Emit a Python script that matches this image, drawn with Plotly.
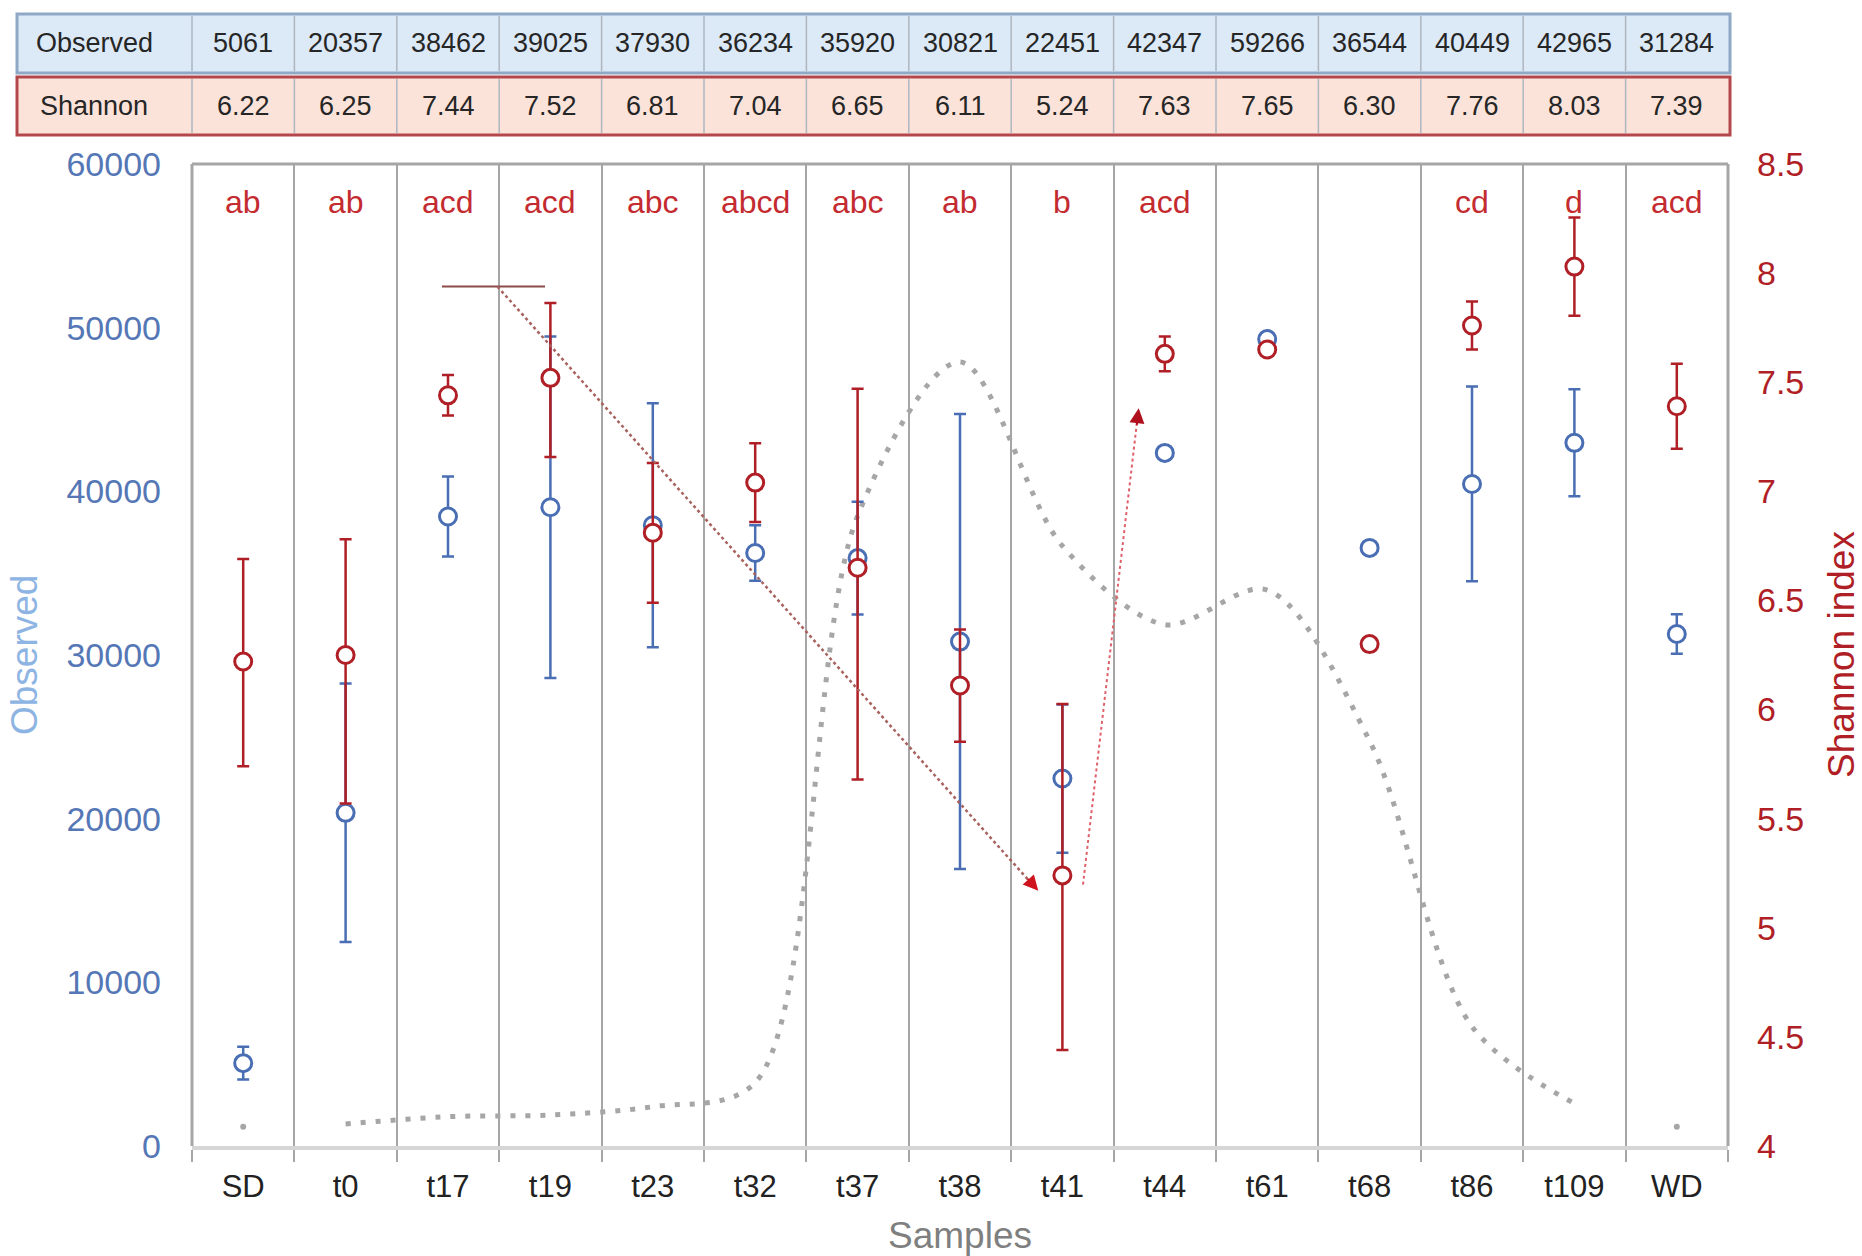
import plotly.graph_objects as go

# ---------------- data ----------------
samples = ["SD", "t0", "t17", "t19", "t23", "t32", "t37", "t38", "t41", "t44",
           "t61", "t68", "t86", "t109", "WD"]
observed_table = [5061, 20357, 38462, 39025, 37930, 36234, 35920, 30821, 22451,
                  42347, 59266, 36544, 40449, 42965, 31284]
shannon_table = [6.22, 6.25, 7.44, 7.52, 6.81, 7.04, 6.65, 6.11, 5.24, 7.63,
                 7.65, 6.30, 7.76, 8.03, 7.39]
# plotted means (read from the points)
observed_mean = [5061, 20357, 38462, 39025, 37930, 36234, 35920, 30821, 22451,
                 42347, 49300, 36544, 40449, 42965, 31284]
observed_err = [1000, 7900, 2450, 10430, 7450, 1700, 3450, 13900, 4530, 0, 0, 0,
                5950, 3270, 1200]
shannon_mean = [6.22, 6.25, 7.44, 7.52, 6.81, 7.04, 6.65, 6.11, 5.24, 7.63,
                7.65, 6.30, 7.76, 8.03, 7.39]
shannon_err_plus = [0.47, 0.53, 0.093, 0.343, 0.32, 0.18, 0.82, 0.257, 0.785, 0.08,
                    0, 0, 0.11, 0.225, 0.195]
shannon_err_minus = [0.48, 0.68, 0.093, 0.363, 0.32, 0.18, 0.97, 0.257, 0.80, 0.08,
                     0, 0, 0.11, 0.225, 0.195]
letters = ["ab", "ab", "acd", "acd", "abc", "abcd", "abc", "ab", "b", "acd",
           "", "", "cd", "d", "acd"]
# dotted grey curve (in Observed axis units); SD and WD are isolated points
curve_vals = [1180, 1344, 1790, 1894, 2400, 3870, 38500, 47900, 36660, 31860,
              33970, 24750, 7300, 2600, 1180]
left_ticks = [0, 10000, 20000, 30000, 40000, 50000, 60000]
left_ticktext = ["0", "10000", "20000", "30000", "40000", "50000", "60000"]
right_ticks = [4, 4.5, 5, 5.5, 6, 6.5, 7, 7.5, 8, 8.5]

# ---------------- layout geometry ----------------
W, H = 1862, 1256
PL, PR, PT, PB = 192, 1728, 164, 1146
FONT = "Liberation Sans, Arial, sans-serif"

def px_x(px):
    return (px - PL) / (PR - PL)

def px_y(py):
    return (PB - py) / (PB - PT)

def to_x(px):
    return (px - PL) / ((PR - PL) / len(samples)) - 0.5

def to_obs(py):
    return (PB - py) / (PB - PT) * 60000

BLUE = "#4A6EB3"
RED = "#B01E26"
LETTER_RED = "#C42B30"
GREY = "#A6A6A6"

idx = list(range(len(samples)))
fig = go.Figure()

# grey dotted curve
line_x = idx[1:-1]
line_y = curve_vals[1:-1]
fig.add_trace(go.Scatter(
    x=line_x, y=line_y, mode="lines", yaxis="y",
    line=dict(color=GREY, width=5, dash="5px,10px", shape="spline", smoothing=0.9),
    hoverinfo="skip", showlegend=False))
fig.add_trace(go.Scatter(
    x=[idx[0], idx[-1]], y=[curve_vals[0], curve_vals[-1]], mode="markers", yaxis="y",
    marker=dict(color=GREY, size=6), hoverinfo="skip", showlegend=False))

# blue observed: error bars (only where present) then markers
bx = [i for i in idx if observed_err[i] > 0]
fig.add_trace(go.Scatter(
    x=bx, y=[observed_mean[i] for i in bx], mode="markers", yaxis="y",
    marker=dict(size=1, color="rgba(0,0,0,0)"),
    error_y=dict(type="data", array=[observed_err[i] for i in bx],
                 color=BLUE, thickness=2.5, width=6),
    hoverinfo="skip", showlegend=False))
fig.add_trace(go.Scatter(
    x=idx, y=observed_mean, mode="markers", yaxis="y",
    marker=dict(symbol="circle", size=17, color="white",
                line=dict(color=BLUE, width=3)),
    showlegend=False))

# red shannon
rx = [i for i in idx if shannon_err_plus[i] > 0]
fig.add_trace(go.Scatter(
    x=rx, y=[shannon_mean[i] for i in rx], mode="markers", yaxis="y2",
    marker=dict(size=1, color="rgba(0,0,0,0)"),
    error_y=dict(type="data", symmetric=False,
                 array=[shannon_err_plus[i] for i in rx],
                 arrayminus=[shannon_err_minus[i] for i in rx],
                 color=RED, thickness=2.5, width=6),
    hoverinfo="skip", showlegend=False))
fig.add_trace(go.Scatter(
    x=idx, y=shannon_mean, mode="markers", yaxis="y2",
    marker=dict(symbol="circle", size=17, color="white",
                line=dict(color=RED, width=3)),
    showlegend=False))

shapes = []
annotations = []

# plot frame
shapes.append(dict(type="line", xref="paper", yref="paper", x0=0, x1=1, y0=1, y1=1,
                   line=dict(color=GREY, width=3)))
shapes.append(dict(type="line", xref="paper", yref="paper", x0=0, x1=0, y0=0, y1=1,
                   line=dict(color=GREY, width=3)))
shapes.append(dict(type="line", xref="paper", yref="paper", x0=1, x1=1, y0=0, y1=1,
                   line=dict(color=GREY, width=3)))

# ---------------- table ----------------
T_L, T_R = 17, 1730
rows = [
    dict(top=14, bot=73, fill="#DCE9F6", border="#8EA8C6", label="Observed",
         values=[str(v) for v in observed_table]),
    dict(top=77, bot=135, fill="#FBE3DA", border="#B4474C", label="Shannon",
         values=["%.2f" % v for v in shannon_table]),
]
ncol = len(samples)
for r in rows:
    shapes.append(dict(type="rect", xref="paper", yref="paper", layer="below",
                       x0=px_x(T_L), x1=px_x(T_R), y0=px_y(r["bot"]), y1=px_y(r["top"]),
                       fillcolor=r["fill"], line=dict(color=r["border"], width=3)))
    for k in range(ncol):
        shapes.append(dict(type="line", xref="paper", yref="paper",
                           x0=k / ncol, x1=k / ncol,
                           y0=px_y(r["bot"] - 2), y1=px_y(r["top"] + 2),
                           line=dict(color="#AEB6BF", width=1.5)))
    ymid = px_y((r["top"] + r["bot"]) / 2)
    annotations.append(dict(xref="paper", yref="paper", x=px_x(94), y=ymid,
                            text=r["label"], showarrow=False, xanchor="center",
                            yanchor="middle",
                            font=dict(family=FONT, size=27, color="#262626")))
    for i, v in enumerate(r["values"]):
        annotations.append(dict(xref="x", yref="paper", x=i, y=ymid, text=v,
                                showarrow=False, xanchor="center", yanchor="middle",
                                font=dict(family=FONT, size=27, color="#262626")))

# significance letters
for i, t in enumerate(letters):
    if t:
        annotations.append(dict(xref="x", yref="paper", x=i, y=px_y(202), text=t,
                                showarrow=False, xanchor="center", yanchor="middle",
                                font=dict(family=FONT, size=32, color=LETTER_RED)))

# ---------------- arrows ----------------
# short horizontal bar over t17/t19
shapes.append(dict(type="line", xref="x", yref="y",
                   x0=to_x(442), x1=to_x(545), y0=to_obs(286.6), y1=to_obs(286.6),
                   line=dict(color="#8B4A4A", width=2)))
# long dotted arrow to t41
shapes.append(dict(type="line", xref="x", yref="y",
                   x0=to_x(497.5), y0=to_obs(286.6), x1=to_x(1032), y1=to_obs(884),
                   line=dict(color="#A8625E", width=2.5, dash="dot")))
annotations.append(dict(xref="x", yref="y", x=to_x(1038.3), y=to_obs(890.7),
                        ax=-12, ay=-13.4, text="", showarrow=True, arrowhead=2,
                        arrowsize=1.5, arrowwidth=2, arrowcolor="#D0141E"))
# short dotted arrow up to t44
shapes.append(dict(type="line", xref="x", yref="y",
                   x0=to_x(1083), y0=to_obs(884.7), x1=to_x(1137), y1=to_obs(422),
                   line=dict(color="#E0606A", width=2, dash="dot")))
annotations.append(dict(xref="x", yref="y", x=to_x(1138.7), y=to_obs(408.3),
                        ax=-2.1, ay=18, text="", showarrow=True, arrowhead=2,
                        arrowsize=1.5, arrowwidth=2, arrowcolor="#B0101E"))

# axis titles
annotations.append(dict(xref="paper", yref="paper", x=px_x(24), y=0.5, text="Observed",
                        textangle=-90, showarrow=False, xanchor="center", yanchor="middle",
                        font=dict(family=FONT, size=37, color="#8DB4E2")))
annotations.append(dict(xref="paper", yref="paper", x=px_x(1841), y=0.5,
                        text="Shannon index", textangle=-90, showarrow=False,
                        xanchor="center", yanchor="middle",
                        font=dict(family=FONT, size=37, color=RED)))
annotations.append(dict(xref="paper", yref="paper", x=0.5, y=px_y(1235), text="Samples",
                        showarrow=False, xanchor="center", yanchor="middle",
                        font=dict(family=FONT, size=37, color="#7F7F7F")))

fig.update_layout(
    width=W, height=H,
    margin=dict(l=PL, r=W - PR, t=PT, b=H - PB, pad=0),
    paper_bgcolor="white", plot_bgcolor="white",
    font=dict(family=FONT),
    showlegend=False,
    xaxis=dict(range=[-0.5, len(samples) - 0.5], tickmode="array", tickvals=idx,
               ticktext=samples, ticks="", showgrid=False, zeroline=False,
               showline=True, linecolor="#D6D6D6", linewidth=4,
               tickfont=dict(family=FONT, size=31, color="#222222"),
               ticklabelstandoff=10,
               minor=dict(tickmode="array",
                          tickvals=[i - 0.5 for i in range(len(samples) + 1)],
                          ticks="outside", ticklen=12, tickcolor=GREY, tickwidth=2,
                          showgrid=True, gridcolor=GREY, gridwidth=2)),
    yaxis=dict(range=[0, 60000], tickmode="array", tickvals=left_ticks,
               ticktext=left_ticktext, ticks="", showgrid=False, zeroline=False,
               showline=False,
               tickfont=dict(family=FONT, size=34, color="#5577B6"),
               ticklabelstandoff=30),
    yaxis2=dict(range=[4, 8.5], overlaying="y", side="right", tickmode="array",
                tickvals=right_ticks, ticks="", showgrid=False, zeroline=False,
                showline=False,
                tickfont=dict(family=FONT, size=34, color=RED),
                ticklabelstandoff=28),
    shapes=shapes,
    annotations=annotations,
)

fig.write_html("out.html")
